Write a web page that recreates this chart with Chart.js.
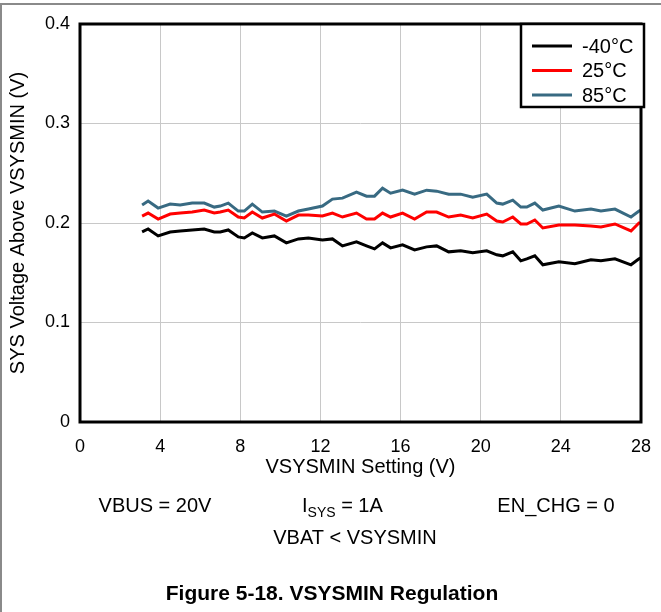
<!DOCTYPE html>
<html>
<head>
<meta charset="utf-8">
<script src="https://cdn.jsdelivr.net/npm/chart.js@4"></script>
<style>
  html, body { margin: 0; padding: 0; background: #fff; }
  #wrap { position: relative; width: 661px; height: 612px; }
</style>
</head>
<body>
<div id="wrap"><canvas id="c" width="661" height="612"></canvas></div>
<script>
// VSYSMIN setting (V)
const vsysmin = [3.1,3.4,3.9,4.5,5.0,5.6,6.2,6.7,7.0,7.4,7.9,8.2,8.6,9.1,9.7,10.3,10.9,11.4,
  12.1,12.6,13.1,13.8,14.3,14.7,15.1,15.5,16.1,16.7,17.3,17.8,18.4,19.0,19.6,20.3,20.8,21.1,
  21.6,22.0,22.3,22.7,23.1,23.9,24.7,25.5,26.0,26.7,27.5,27.9,28.0];
// SYS voltage above VSYSMIN (V)
const tMinus40 = [0.191,0.194,0.187,0.191,0.192,0.193,0.194,0.191,0.191,0.193,0.186,0.185,0.190,0.185,0.187,0.180,0.184,0.185,
  0.183,0.184,0.177,0.181,0.177,0.174,0.180,0.175,0.178,0.173,0.176,0.177,0.171,0.172,0.170,0.172,0.168,0.167,
  0.171,0.162,0.164,0.167,0.158,0.161,0.159,0.163,0.162,0.164,0.158,0.164,0.165];
const t25 = [0.207,0.210,0.204,0.209,0.210,0.211,0.213,0.210,0.211,0.213,0.206,0.205,0.211,0.205,0.209,0.202,0.208,0.208,
  0.207,0.210,0.206,0.210,0.204,0.204,0.210,0.206,0.210,0.204,0.211,0.211,0.206,0.208,0.205,0.209,0.202,0.201,
  0.206,0.199,0.199,0.203,0.195,0.198,0.198,0.197,0.196,0.199,0.192,0.200,0.200];
const t85 = [0.218,0.222,0.215,0.219,0.218,0.220,0.220,0.216,0.217,0.220,0.212,0.212,0.219,0.211,0.212,0.207,0.212,0.214,
  0.217,0.224,0.225,0.231,0.227,0.227,0.235,0.230,0.233,0.229,0.233,0.232,0.229,0.229,0.226,0.229,0.220,0.219,
  0.223,0.216,0.216,0.220,0.213,0.217,0.212,0.214,0.212,0.214,0.206,0.212,0.213];
const seriesNames = ["-40°C", "25°C", "85°C"];
const seriesColors = ["#000000", "#ff0000", "#386a82"];
const xTicks = [0,4,8,12,16,20,24,28];
const yTicks = [0,0.1,0.2,0.3,0.4];

const FONT = "'Liberation Sans', Arial, sans-serif";
const pts = ys => vsysmin.map((x, i) => ({ x: x, y: ys[i] }));

const frame = {
  id: "frame",
  afterDraw(chart) {
    const { ctx, chartArea: a } = chart;
    ctx.save();
    // page frame
    ctx.strokeStyle = "#8a8a8a"; ctx.lineWidth = 2;
    ctx.beginPath(); ctx.moveTo(0, 4); ctx.lineTo(661, 4); ctx.moveTo(1, 4); ctx.lineTo(1, 612); ctx.stroke();
    // plot border
    ctx.strokeStyle = "#000"; ctx.lineWidth = 3;
    ctx.strokeRect(a.left, a.top, a.right - a.left, a.bottom - a.top);
    // legend box
    const lx = 521, ly = 24, lw = a.right - 521 + 3, lh = 83;
    ctx.fillStyle = "#fff"; ctx.fillRect(lx, ly, lw, lh);
    ctx.lineWidth = 2.5; ctx.strokeRect(lx, ly, lw, lh);
    ctx.font = "20px " + FONT; ctx.textBaseline = "middle"; ctx.textAlign = "left";
    seriesNames.forEach((n, i) => {
      const y = 46 + i * 24.5;
      ctx.strokeStyle = seriesColors[i]; ctx.lineWidth = 3;
      ctx.beginPath(); ctx.moveTo(532, y); ctx.lineTo(572, y); ctx.stroke();
      ctx.fillStyle = "#000"; ctx.fillText(n, 582, y + 1);
    });
    // conditions
    ctx.textAlign = "center"; ctx.fillStyle = "#000";
    ctx.fillText("VBUS = 20V", 155, 506);
    ctx.fillText("EN_CHG = 0", 556, 506);
    ctx.fillText("VBAT < VSYSMIN", 355, 538);
    ctx.textAlign = "left";
    let x = 302;
    ctx.fillText("I", x, 506); x += ctx.measureText("I").width;
    ctx.font = "14px " + FONT; ctx.fillText("SYS", x, 513); x += ctx.measureText("SYS").width;
    ctx.font = "20px " + FONT; ctx.fillText(" = 1A", x, 506);
    ctx.font = "bold 21px " + FONT; ctx.textAlign = "center";
    ctx.fillText("Figure 5-18. VSYSMIN Regulation", 332, 594);
    ctx.restore();
  }
};

new Chart(document.getElementById("c"), {
  type: "line",
  data: {
    datasets: seriesNames.map((n, i) => ({
      label: n,
      data: pts([tMinus40, t25, t85][i]),
      borderColor: seriesColors[i],
      borderWidth: 3,
      pointRadius: 0,
      tension: 0,
      fill: false
    }))
  },
  options: {
    responsive: false,
    animation: false,
    layout: { padding: { left: 0, right: 20, top: 24, bottom: 130 } },
    plugins: { legend: { display: false }, tooltip: { enabled: false } },
    scales: {
      x: {
        type: "linear", min: 0, max: 28,
        afterBuildTicks: s => { s.ticks = xTicks.map(v => ({ value: v })); },
        afterFit: s => { s.height = 60; s.paddingLeft = 0; s.paddingRight = 0; },
        grid: { color: "#c8c8c8", lineWidth: 1, drawTicks: false },
        border: { display: false },
        ticks: { color: "#000", font: { family: FONT, size: 18 }, padding: 14, maxRotation: 0 },
        title: { display: true, text: "VSYSMIN Setting (V)", color: "#000", font: { family: FONT, size: 20 }, padding: { top: 0, bottom: 3 } }
      },
      y: {
        min: 0, max: 0.4,
        afterBuildTicks: s => { s.ticks = yTicks.map(v => ({ value: v })); },
        afterFit: s => { s.width = 80; s.paddingTop = 0; s.paddingBottom = 0; },
        grid: { color: "#c8c8c8", lineWidth: 1, drawTicks: false },
        border: { display: false },
        ticks: { color: "#000", font: { family: FONT, size: 18 }, padding: 10, callback: v => v === 0 ? "0" : v.toFixed(1) },
        title: { display: true, text: "SYS Voltage Above VSYSMIN (V)", color: "#000", font: { family: FONT, size: 20 }, padding: { top: 6, bottom: 0 } }
      }
    }
  },
  plugins: [frame]
});
</script>
</body>
</html>
